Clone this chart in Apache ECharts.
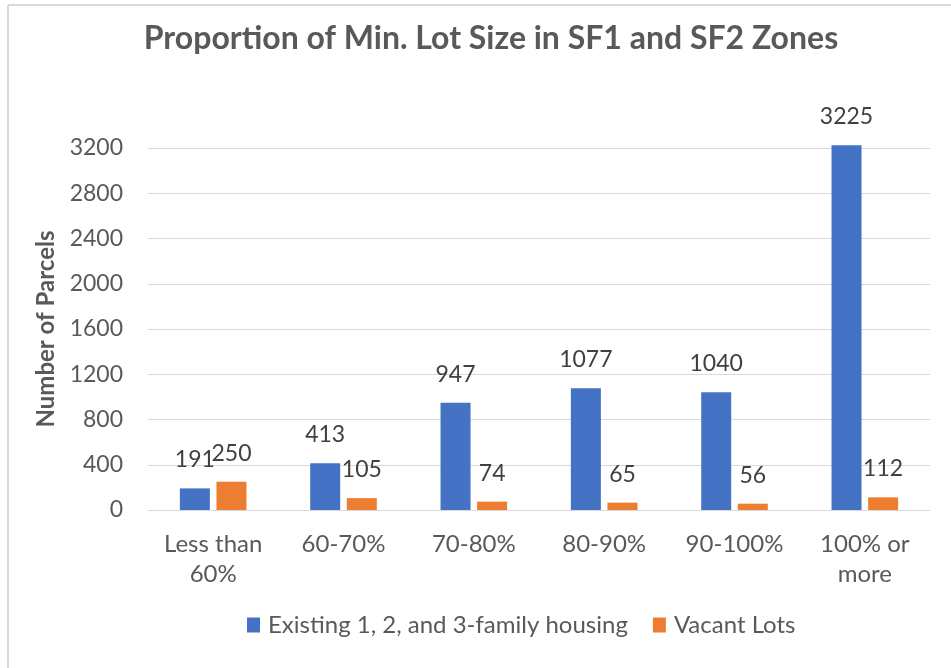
<!DOCTYPE html>
<html>
<head>
<meta charset="utf-8">
<script src="https://cdn.jsdelivr.net/npm/echarts@6/dist/echarts.min.js"></script>
<style>
html,body{margin:0;padding:0;background:#fff;}
#chart{width:951px;height:668px;}
</style>
</head>
<body>
<div id="chart"></div>
<script>
const categories = ['Less than\n60%', '60-70%', '70-80%', '80-90%', '90-100%', '100% or\nmore'];
const existingHousing = [191, 413, 947, 1077, 1040, 3225];
const vacantLots = [250, 105, 74, 65, 56, 112];
const seriesNames = ['Existing 1, 2, and 3-family housing', 'Vacant Lots'];
const titleText = 'Proportion of Min. Lot Size in SF1 and SF2 Zones';
const yAxisTitle = 'Number of Parcels';

const FONT = 'Lato';
const chart = echarts.init(document.getElementById('chart'), null, {renderer: 'canvas'});

const labelStyle = {
  show: true, position: 'top', distance: 17,
  color: '#404040', fontFamily: FONT, fontSize: 23
};

chart.setOption({
  animation: false,
  backgroundColor: '#fff',
  title: {
    text: titleText,
    left: 486, top: 18, textAlign: 'center',
    textStyle: {fontFamily: FONT, fontSize: 32, fontWeight: 'bold', color: '#595959'}
  },
  graphic: [
    {type: 'line', shape: {x1: 8, y1: 5, x2: 8, y2: 668}, style: {stroke: '#d9d9d9', lineWidth: 2}},
    {type: 'line', shape: {x1: 8, y1: 5, x2: 951, y2: 5}, style: {stroke: '#d9d9d9', lineWidth: 2}}
  ],
  legend: {
    data: seriesNames,
    left: 242, top: 608,
    itemWidth: 13, itemHeight: 15, itemGap: 25,
    icon: 'rect',
    textStyle: {fontFamily: FONT, fontSize: 24, color: '#595959', padding: [0, 0, 0, 3]}
  },
  grid: {left: 148, right: 21, top: 148, bottom: 158, containLabel: false},
  xAxis: {
    type: 'category',
    data: categories,
    axisLine: {show: true, lineStyle: {color: '#d9d9d9', width: 1}},
    axisTick: {show: false},
    axisLabel: {
      fontFamily: FONT, fontSize: 24, color: '#595959',
      lineHeight: 30, margin: 19
    }
  },
  yAxis: {
    type: 'value',
    min: 0, max: 3200, interval: 400,
    name: yAxisTitle,
    nameLocation: 'middle',
    nameGap: 90,
    nameTextStyle: {fontFamily: FONT, fontSize: 24, fontWeight: 'bold', color: '#595959'},
    axisLine: {show: false},
    axisTick: {show: false},
    splitLine: {lineStyle: {color: '#d9d9d9', width: 1}},
    axisLabel: {fontFamily: FONT, fontSize: 23, color: '#595959', margin: 25,
      formatter: function (v) { return String(v); }}
  },
  series: [
    {
      name: seriesNames[0], type: 'bar', data: existingHousing,
      barWidth: 30, barGap: '22%', clip: false,
      itemStyle: {color: '#4472C4'},
      label: labelStyle
    },
    {
      name: seriesNames[1], type: 'bar', data: vacantLots,
      barWidth: 30, barGap: '22%', clip: false,
      itemStyle: {color: '#ED7D31'},
      label: labelStyle
    }
  ]
});
</script>
</body>
</html>
